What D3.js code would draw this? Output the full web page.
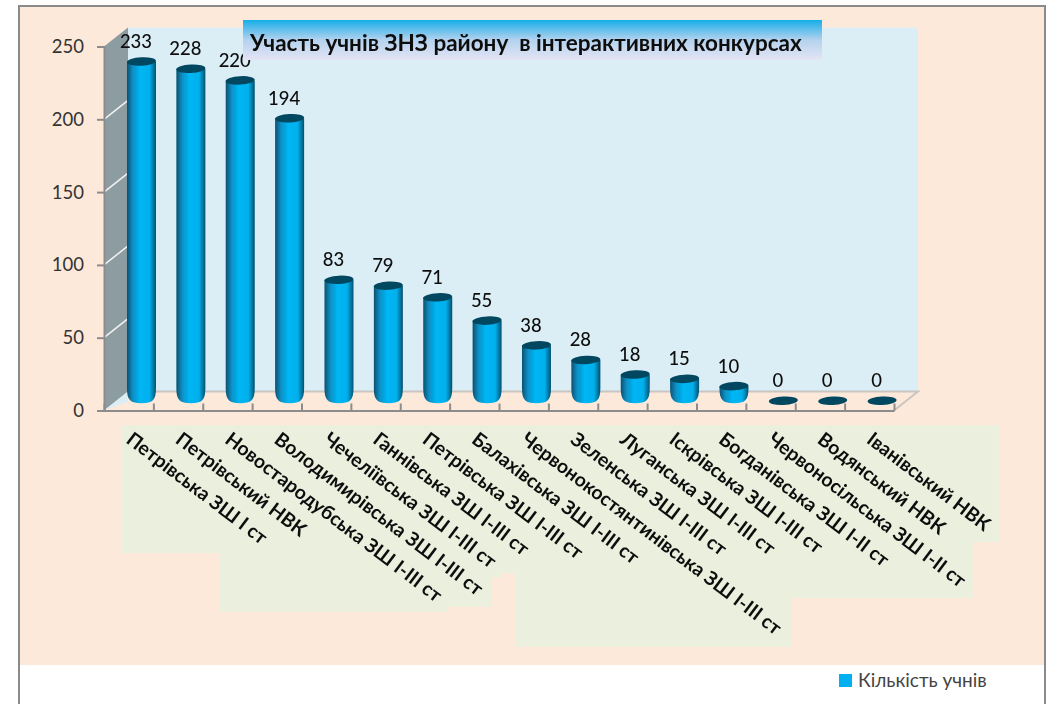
<!DOCTYPE html>
<html>
<head>
<meta charset="utf-8">
<script src="https://cdn.jsdelivr.net/npm/d3@7"></script>
<style>
  html, body { margin: 0; padding: 0; background: #fff; }
  svg { display: block; font-family: Lato, "Noto Sans", sans-serif; }
</style>
</head>
<body>
<div id="vis"></div>
<script>
// chart data
const categories = [
  'Петрівська ЗШ І ст', 'Петрівський НВК', 'Новостародубська ЗШ І-ІІІ ст',
  'Володимирівська ЗШ І-ІІІ ст', 'Чечеліївська ЗШ І-ІІІ ст', 'Ганнівська ЗШ І-ІІІ ст',
  'Петрівська ЗШ І-ІІІ ст', 'Балахівська ЗШ І-ІІІ ст', 'Червонокостянтинівська ЗШ І-ІІІ ст',
  'Зеленська ЗШ І-ІІІ ст', 'Луганська ЗШ І-ІІІ ст', 'Іскрівська ЗШ І-ІІІ ст',
  'Богданівська ЗШ І-ІІ ст', 'Червоносільська ЗШ І-ІІ ст', 'Водянський НВК', 'Іванівський НВК'
];
const values = [233, 228, 220, 194, 83, 79, 71, 55, 38, 28, 18, 15, 10, 0, 0, 0];
const yTicks = [0, 50, 100, 150, 200, 250];
const titleText = 'Участь учнів ЗНЗ району  в інтерактивних конкурсах';
const legendText = 'Кількість учнів';

const width = 1052, height = 704;

// 3d offset of the back wall
const depthX = 24, depthY = -19;
// bars stand half way into the floor
const barDx = 12.8, barDy = -9.8;
const barR = 14.5, capRy = 4.2;

const svg = d3.select('#vis').append('svg')
  .attr('width', width)
  .attr('height', height)
  .attr('viewBox', [0, 0, width, height].join(' '));

const x = d3.scaleBand().domain(categories).range([104, 894]);
const xEdge = d3.scaleLinear().domain([0, categories.length]).range([104, 894]);
const y = d3.scaleLinear().domain([0, 250]).range([410.5, 46.5]);
const barCx = name => x(name) + x.bandwidth() / 2 + barDx;

// gradients
const defs = svg.append('defs');
const barGrad = defs.append('linearGradient').attr('id', 'barGrad');
[[0, '#07506f'], [0.2, '#0a8fc4'], [0.45, '#00b6f4'], [0.78, '#00b0ec'], [1, '#07506f']].forEach(s => {
  barGrad.append('stop').attr('offset', s[0]).attr('stop-color', s[1]);
});
const titleGrad = defs.append('linearGradient').attr('id', 'titleGrad')
  .attr('x1', 0).attr('x2', 0).attr('y1', 0).attr('y2', 1);
[[0, '#14aeea'], [0.12, '#3cb6ea'], [0.5, '#b4d2ee'], [1, '#e4e4f4']].forEach(s => {
  titleGrad.append('stop').attr('offset', s[0]).attr('stop-color', s[1]);
});
defs.append('filter').attr('id', 'soft')
  .append('feGaussianBlur').attr('stdDeviation', 0.45);

// chart area and frame
svg.append('rect').attr('x', 19).attr('y', 6).attr('width', 1026).attr('height', 659).attr('fill', '#fde9da');
svg.append('path')
  .attr('d', 'M19,704V6H1045V704')
  .attr('fill', 'none').attr('stroke', '#8a8a8a').attr('stroke-width', 2);

// background behind the category labels
const labelBg = [[122, 553], [220, 612], [448, 607], [492, 577], [502, 573], [516, 647], [792, 598], [974, 542], [999, 425]];
let bgPath = 'M122,425';
labelBg.forEach((p, i) => {
  bgPath += 'V' + p[1] + 'H' + (labelBg[i + 1] ? labelBg[i + 1][0] : p[0]);
});
svg.append('path').attr('d', bgPath + 'Z').attr('fill', '#ebefde');

// walls
const x0 = x.range()[0], x1 = x.range()[1];
svg.append('rect')
  .attr('x', x0 + depthX).attr('y', y(250) + depthY)
  .attr('width', x1 - x0).attr('height', y(0) - y(250))
  .attr('fill', '#dbeef6');
svg.append('path')
  .attr('d', `M${x0},${y(250)}L${x0 + depthX},${y(250) + depthY}V${y(0) + depthY}L${x0},${y(0)}Z`)
  .attr('fill', '#8d9ca1');
// floor edges
svg.append('path')
  .attr('d', `M${x0},${y(0)}L${x0 + depthX},${y(0) + depthY}V${y(0) + depthY + 10}Z`)
  .attr('fill', '#dbeef6');
svg.append('path')
  .attr('d', `M${x0 + depthX},${y(0) + depthY}H${x1 + depthX}L${x1},${y(0)}`)
  .attr('fill', 'none').attr('stroke', '#c9c6c2').attr('stroke-width', 2);

// white gridlines on the side wall
svg.append('g').selectAll('line')
  .data(yTicks.slice(1, -1))
  .join('line')
  .attr('x1', x0).attr('x2', x0 + depthX)
  .attr('y1', d => y(d)).attr('y2', d => y(d) + depthY)
  .attr('stroke', '#f2f2f2').attr('stroke-width', 1.5);

// axes
const yAxis = svg.append('g')
  .attr('transform', `translate(${x0},0)`)
  .call(d3.axisLeft(y).tickValues(yTicks).tickSize(7).tickPadding(13));
yAxis.selectAll('text')
  .attr('font-size', 18.5).attr('fill', '#333').attr('font-family', 'Lato, "Noto Sans", sans-serif');

const xAxis = svg.append('g')
  .attr('transform', `translate(0,${y(0)})`)
  .call(d3.axisBottom(xEdge).tickValues(d3.range(categories.length + 1)).tickSize(-7).tickSizeOuter(0).tickFormat(''));

svg.selectAll('.domain, .tick line')
  .attr('stroke', '#8c8c8c').attr('stroke-width', 2);

// cylinders
function barPath(d) {
  const cx = barCx(d.name);
  const top = y(d.value) + barDy;
  const bottom = y(0) + barDy + 2.5;
  const k = Math.min(15, bottom - top);
  return `M${cx - barR},${top}V${bottom - k}` +
    `C${cx - barR},${bottom - k * 0.2} ${cx - barR * 0.75},${bottom} ${cx},${bottom}` +
    `C${cx + barR * 0.75},${bottom} ${cx + barR},${bottom - k * 0.2} ${cx + barR},${bottom - k}` +
    `V${top}Z`;
}
const rows = categories.map((name, i) => ({ name: name, value: values[i] }));
const bars = svg.append('g').attr('filter', 'url(#soft)');
bars.selectAll('path')
  .data(rows.filter(d => d.value > 0))
  .join('path')
  .attr('d', barPath)
  .attr('fill', 'url(#barGrad)');
bars.selectAll('ellipse')
  .data(rows)
  .join('ellipse')
  .attr('cx', d => barCx(d.name))
  .attr('cy', d => y(d.value) + barDy)
  .attr('rx', barR)
  .attr('ry', capRy)
  .attr('transform', d => `rotate(-3,${barCx(d.name)},${y(d.value) + barDy})`)
  .attr('fill', '#05465f');

// data labels
svg.append('g').attr('filter', 'url(#soft)').selectAll('text')
  .data(rows)
  .join('text')
  .attr('x', d => barCx(d.name) - 5.5)
  .attr('y', d => y(d.value) + barDy - 13.5)
  .attr('text-anchor', 'middle')
  .attr('font-size', 18.5)
  .attr('font-weight', 500)
  .attr('fill', '#111')
  .text(d => d.value);

// category labels
svg.append('g').attr('filter', 'url(#soft)').selectAll('text')
  .data(categories)
  .join('text')
  .attr('transform', d => `translate(${x(d) + x.bandwidth() / 2 - 3.7},442) rotate(37.2)`)
  .attr('font-size', 19.4)
  .attr('font-weight', 700)
  .attr('fill', '#111')
  .text(d => d);

// title
svg.append('rect')
  .attr('x', 243).attr('y', 20).attr('width', 579).attr('height', 40)
  .attr('fill', 'url(#titleGrad)');
svg.append('text')
  .attr('filter', 'url(#soft)')
  .attr('x', 250).attr('y', 51)
  .attr('font-size', 22.5)
  .attr('font-weight', 700)
  .attr('fill', '#111')
  .attr('xml:space', 'preserve')
  .style('white-space', 'pre')
  .text(titleText);

// legend
svg.append('rect').attr('x', 839).attr('y', 674).attr('width', 13).attr('height', 13).attr('fill', '#00b0f0');
svg.append('text')
  .attr('x', 858).attr('y', 687)
  .attr('font-size', 19)
  .attr('fill', '#444')
  .text(legendText);
</script>
</body>
</html>
